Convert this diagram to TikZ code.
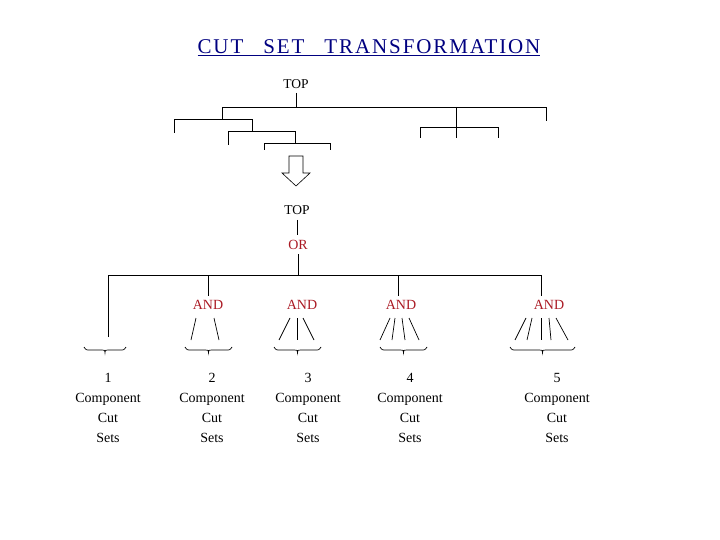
\documentclass[tikz,border=0pt]{standalone}
\usepackage{fontspec}
\setmainfont{Liberation Serif}
\begin{document}
\begin{tikzpicture}[x=1pt,y=-1pt,line width=0.9pt,
  lbl/.style={font=\fontsize{13.5}{15}\selectfont,inner sep=0pt},
  andg/.style={font=\fontsize{14}{15}\selectfont,text={rgb,255:red,170;green,25;blue,35},inner sep=0pt},
  cs/.style={font=\fontsize{14}{20}\selectfont,align=center,inner sep=0pt}]
\useasboundingbox (0,0) rectangle (720,540);
\node[font=\fontsize{21}{24}\selectfont,text={rgb,255:red,0;green,0;blue,128}] (title) at (369,48) {\addfontfeature{LetterSpace=9}\underline{CUT\hspace{20pt}SET\hspace{20pt}TRANSFORMATION}};
% upper tree
\node[lbl] (top1) at (296,84) {TOP};
\draw (296,93) -- (296,107);
\draw (222,119) -- (222,107) -- (546,107) -- (546,121);
\draw (174,133) -- (174,119) -- (252,119) -- (252,131);
\draw (228,145) -- (228,131) -- (295,131) -- (295,143);
\draw (264,150) -- (264,143) -- (330,143) -- (330,150);
\draw (456,107) -- (456,138);
\draw (420,138) -- (420,127) -- (498,127) -- (498,138);
% block arrow
\draw[line width=0.6pt] (289,156) -- (303,156) -- (303,173) -- (310,173) -- (296,186) -- (282,173) -- (289,173) -- cycle;
% lower tree
\node[lbl] (top2) at (297,210) {TOP};
\node[andg] (or) at (298,245) {OR};
\draw (297,220) -- (297,235);
\draw (298,254) -- (298,275);
\draw (108,337) -- (108,275) -- (541,275);
\draw (208,275) -- (208,296);
\draw (398,275) -- (398,296);
\draw (541,275) -- (541,296);
\node[andg] (a1) at (208,305) {AND};
\node[andg] (a2) at (302,305) {AND};
\node[andg] (a3) at (401,305) {AND};
\node[andg] (a4) at (549,305) {AND};
% fans
\foreach \tops/\bots in {
  {196,214}/{191,219},
  {290,297,303}/{279,297,314},
  {390,395,402,409}/{380,392,405,419},
  {526,532,541,549,556}/{515,527,541,551,568}}{
  \foreach \t [count=\i] in \tops {
    \foreach \b [count=\j] in \bots {\ifnum\i=\j \draw[line width=0.7pt] (\t,318) -- (\b,340);\fi}
  }
}
% braces
\foreach \l/\r in {84/126,185/232,274/321,380/427,510/575}{
  \draw[line width=0.7pt] (\l,347) .. controls (\l+2,350) .. (\l+6,350) -- ({(\l+\r)/2-3},350) .. controls ({(\l+\r)/2},350) .. ({(\l+\r)/2},353)
   .. controls ({(\l+\r)/2},350) .. ({(\l+\r)/2+3},350) -- (\r-6,350) .. controls (\r-2,350) .. (\r,347);
}
\node[cs] (c1) at (108,408) {1\\Component\\Cut\\Sets};
\node[cs] (c2) at (212,408) {2\\Component\\Cut\\Sets};
\node[cs] (c3) at (308,408) {3\\Component\\Cut\\Sets};
\node[cs] (c4) at (410,408) {4\\Component\\Cut\\Sets};
\node[cs] (c5) at (557,408) {5\\Component\\Cut\\Sets};
\end{tikzpicture}
\end{document}
